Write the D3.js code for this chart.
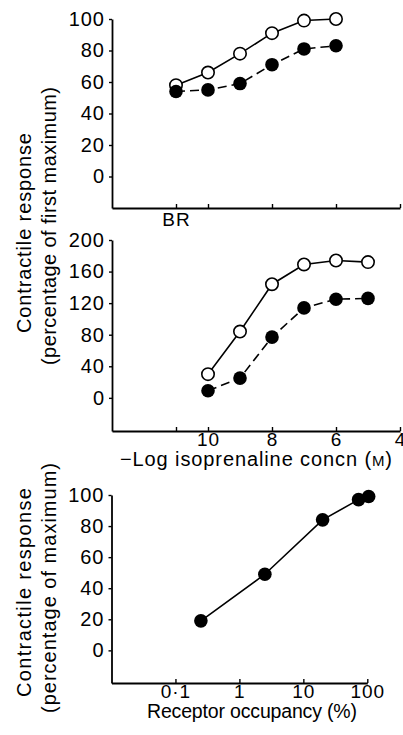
<!DOCTYPE html>
<html>
<head>
<meta charset="utf-8">
<script src="https://cdn.jsdelivr.net/npm/d3@7"></script>
<style>
body { margin: 0; background: #fff; }
svg text { font-family: "Liberation Sans", Arial, Helvetica, sans-serif; fill: #000; }
</style>
</head>
<body>
<div id="chart"></div>
<script>
// top panel: -log isoprenaline concn, 11 stands for the basal rate (BR)
const concTop = [11, 10, 9, 8, 7, 6]
const topOpen = [58, 66, 78, 91, 99, 100]
const topFilled = [54, 55, 59, 71, 81, 83]

// middle panel
const concMid = [10, 9, 8, 7, 6, 5]
const midOpen = [30, 84, 144, 169, 174, 172]
const midFilled = [9, 25, 77, 114, 125, 126]

// bottom panel: receptor occupancy (%) vs response
const occupancy = [0.25, 2.5, 20, 73, 105]
const occResponse = [19, 49, 84, 97, 99]

// ticks
const topYTicks = [0, 20, 40, 60, 80, 100]
const midYTicks = [0, 40, 80, 120, 160, 200]
const occYTicks = [0, 20, 40, 60, 80, 100]
const concTicks = [11, 10, 8, 6, 4]
const topXLabels = {11: "BR", 10: "", 8: "", 6: "", 4: ""}
const midXLabels = {11: "", 10: "10", 8: "8", 6: "6", 4: "4"}
const occTicks = [0.1, 1, 10, 100]
const occXLabels = {0.1: "0·1", 1: "1", 10: "10", 100: "100"}

const width = 403
const height = 735

const svg = d3.select("#chart")
    .append("svg")
    .attr("width", width)
    .attr("height", height)

// scales
const xTop = d3.scaleLinear().domain([13, 4]).range([112, 400])
const yTop = d3.scaleLinear().domain([-20, 100]).range([208, 19])
const xMid = d3.scaleLinear().domain([13, 4]).range([112, 400])
const yMid = d3.scaleLinear().domain([-42, 200]).range([431, 240])
const xOcc = d3.scaleLog().domain([0.01, 100]).range([111.5, 367.3])
const yOcc = d3.scaleLinear().domain([-21, 100]).range([683, 495])

function styleAxis(g, size) {
    g.attr("font-size", size)
        .attr("font-family", null)
    g.select(".domain").attr("stroke-width", 1.8)
    g.selectAll(".tick line").attr("stroke-width", 1.4)
    g.selectAll(".tick text").style("letter-spacing", "1px")
}

function drawAxes(x, y, xTicks, xLabels, yTicks, pad) {
    svg.append("g")
        .attr("transform", `translate(0,${y.range()[0]})`)
        .call(d3.axisBottom(x).tickValues(xTicks).tickSize(-4).tickSizeOuter(0)
            .tickPadding(pad).tickFormat(d => xLabels[d]))
        .call(styleAxis, 19)
    svg.append("g")
        .attr("transform", `translate(${x.range()[0]},0)`)
        .call(d3.axisLeft(y).tickValues(yTicks).tickSize(3).tickSizeOuter(0)
            .tickPadding(4))
        .call(styleAxis, 20)
}

function drawSeries(x, y, xs, ys, dashed) {
    const pts = d3.zip(xs, ys)
    svg.append("path")
        .datum(pts)
        .attr("d", d3.line().x(d => x(d[0])).y(d => y(d[1])))
        .attr("fill", "none")
        .attr("stroke", "#000")
        .attr("stroke-width", 1.6)
        .attr("stroke-dasharray", dashed ? "9,5" : null)
    return pts
}

function drawDots(x, y, pts, filled) {
    svg.append("g")
        .selectAll("circle")
        .data(pts)
        .join("circle")
        .attr("cx", d => x(d[0]))
        .attr("cy", d => y(d[1]))
        .attr("r", filled ? 6.8 : 6.2)
        .attr("fill", filled ? "#000" : "#fff")
        .attr("stroke", "#000")
        .attr("stroke-width", filled ? 0 : 1.6)
}

// panel 1
drawAxes(xTop, yTop, concTicks, topXLabels, topYTicks, 4.5)
const tOpen = drawSeries(xTop, yTop, concTop, topOpen, false)
const tFill = drawSeries(xTop, yTop, concTop, topFilled, true)
drawDots(xTop, yTop, tOpen, false)
drawDots(xTop, yTop, tFill, true)

// panel 2
drawAxes(xMid, yMid, concTicks, midXLabels, midYTicks, 1.5)
const mOpen = drawSeries(xMid, yMid, concMid, midOpen, false)
const mFill = drawSeries(xMid, yMid, concMid, midFilled, true)
drawDots(xMid, yMid, mOpen, false)
drawDots(xMid, yMid, mFill, true)

// panel 3
drawAxes(xOcc, yOcc, occTicks, occXLabels, occYTicks, 1)
const oPts = drawSeries(xOcc, yOcc, occupancy, occResponse, false)
drawDots(xOcc, yOcc, oPts, true)

// axis titles
const xTitle = svg.append("text")
    .attr("x", 120).attr("y", 466)
    .attr("font-size", 20)
    .attr("textLength", 272)
    .attr("lengthAdjust", "spacing")
xTitle.append("tspan").text("−Log isoprenaline concn (")
xTitle.append("tspan").attr("font-size", 15).text("M")
xTitle.append("tspan").text(")")

svg.append("text")
    .attr("x", 147).attr("y", 718)
    .attr("font-size", 19.5)
    .attr("textLength", 210)
    .attr("lengthAdjust", "spacing")
    .text("Receptor occupancy (%)")

const yTitles = [
    {t: "Contractile response", x: 31, y: 333, len: 200},
    {t: "(percentage of first maximum)", x: 56, y: 365, len: 278},
    {t: "Contractile response", x: 31, y: 697, len: 209},
    {t: "(percentage of maximum)", x: 56, y: 713, len: 250}
]
svg.selectAll(".ytitle")
    .data(yTitles)
    .join("text")
    .attr("class", "ytitle")
    .attr("transform", d => `translate(${d.x},${d.y}) rotate(-90)`)
    .attr("font-size", 20)
    .attr("textLength", d => d.len)
    .attr("lengthAdjust", "spacing")
    .text(d => d.t)
</script>
</body>
</html>
